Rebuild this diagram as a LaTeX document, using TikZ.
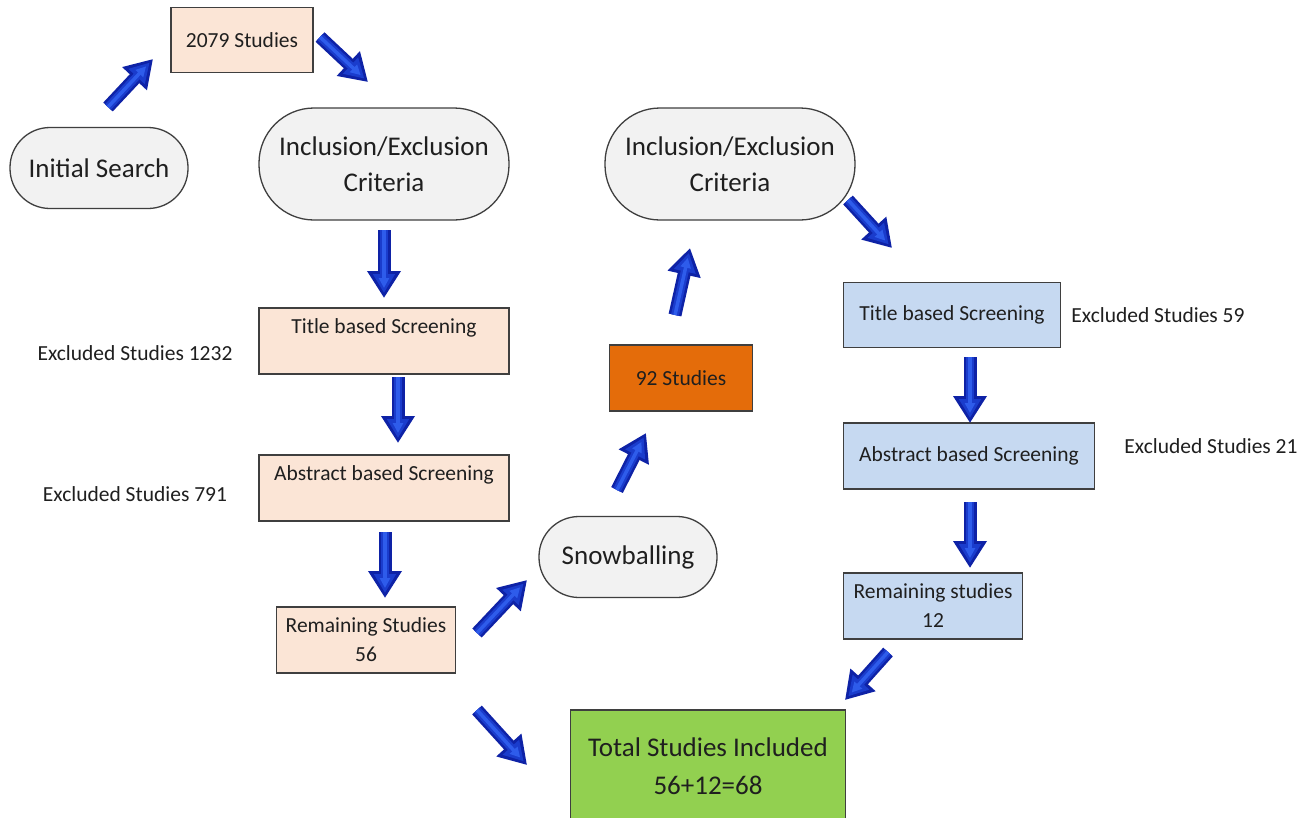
\documentclass[tikz,border=0pt]{standalone}
\usepackage{fontspec}
\setmainfont{Carlito}
\usetikzlibrary{arrows.meta}
\definecolor{peach}{HTML}{FBE5D6}
\definecolor{bluebox}{HTML}{C6D9F1}
\definecolor{orangebox}{HTML}{E46C0A}
\definecolor{greenbox}{HTML}{92D050}
\definecolor{stadfill}{HTML}{F2F2F2}
\definecolor{edgegray}{HTML}{3F3F3F}
\definecolor{arrowdark}{HTML}{0E22A6}
\definecolor{arrowmid}{HTML}{1A3CCC}
\definecolor{arrowlight}{HTML}{2E5CEB}
\definecolor{txt}{HTML}{1F1F1F}
\begin{document}
\begin{tikzpicture}[x=1pt,y=-1pt,
  box/.style={draw=edgegray, line width=1.3pt, inner sep=0pt, align=center, text=txt,
    font=\fontsize{21.5}{29}\selectfont},
  peachbox/.style={box, fill=peach},
  bluebx/.style={box, fill=bluebox},
  stad/.style={box, fill=stadfill, font=\fontsize{27}{36}\selectfont},
  note/.style={inner sep=0pt, text=txt, font=\fontsize{21.5}{29}\selectfont},
  barrowA/.style={draw=arrowdark, line width=13pt,
    -{Triangle[length=27pt,width=32pt,fill=arrowdark]}},
  barrowB/.style={draw=arrowmid, line width=8pt, shorten >=5pt,
    -{Triangle[length=19pt,width=21pt,fill=arrowmid]}},
  barrowC/.style={draw=arrowlight, line width=3.5pt, shorten >=10pt,
    -{Triangle[length=10pt,width=10pt,fill=arrowlight]}}
]
\clip (0,0) rectangle (1308,817);
\fill[white] (0,0) rectangle (1308,817);

% nodes
\node[stad, rounded corners=40pt, minimum width=178pt, minimum height=81pt] (init) at (99,168) {Initial Search};
\node[peachbox, minimum width=142pt, minimum height=65pt] (s2079) at (242,40) {2079 Studies};
\node[stad, rounded corners=55pt, minimum width=250pt, minimum height=112pt] (incl1) at (384,164) {Inclusion/Exclusion\\Criteria};
\node[stad, rounded corners=55pt, minimum width=250pt, minimum height=112pt] (incl2) at (730,164) {Inclusion/Exclusion\\Criteria};
\node[peachbox, minimum width=250pt, minimum height=66pt] (title1) at (384,341) {Title based Screening\\\mbox{}};
\node[peachbox, minimum width=250pt, minimum height=66pt] (abs1) at (384,488) {Abstract based Screening\\\mbox{}};
\node[peachbox, minimum width=179pt, minimum height=66pt] (rem1) at (366,640) {Remaining Studies\\56};
\node[note] (exc1232) at (135,353) {Excluded Studies 1232};
\node[note] (exc791) at (135,494) {Excluded Studies 791};
\node[box, fill=orangebox, minimum width=143pt, minimum height=66pt] (s92) at (681,378) {92 Studies};
\node[stad, rounded corners=40pt, minimum width=178pt, minimum height=81pt] (snow) at (628,557) {Snowballing};
\node[box, fill=greenbox, minimum width=275pt, minimum height=112pt,
  font=\fontsize{27}{38}\selectfont] (total) at (708,766) {Total Studies Included\\56+12=68};
\node[bluebx, minimum width=217pt, minimum height=65pt] (title2) at (952,315) {Title based Screening};
\node[note] (exc59) at (1158,315) {Excluded Studies 59};
\node[bluebx, minimum width=251pt, minimum height=66pt] (abs2) at (969,456) {Abstract based Screening};
\node[note] (exc21) at (1211,446) {Excluded Studies 21};
\node[bluebx, minimum width=179pt, minimum height=66pt] (rem2) at (933,606) {Remaining studies\\12};

% arrow end points
\coordinate (a1s) at (108,107);  \coordinate (a1e) at (153,59);
\coordinate (a2s) at (320,37);   \coordinate (a2e) at (368,82);
\coordinate (a3s) at (384,230);  \coordinate (a3e) at (384,298);
\coordinate (a4s) at (398,377);  \coordinate (a4e) at (398,443);
\coordinate (a5s) at (385,532);  \coordinate (a5e) at (385,598);
\coordinate (a6s) at (477,633);  \coordinate (a6e) at (527,580);
\coordinate (a7s) at (477,710);  \coordinate (a7e) at (527,765);
\coordinate (a8s) at (617,490);  \coordinate (a8e) at (646,433);
\coordinate (a9s) at (675,315);  \coordinate (a9e) at (690,248);
\coordinate (a10s) at (848,200); \coordinate (a10e) at (892,248);
\coordinate (a11s) at (970,357); \coordinate (a11e) at (970,423);
\coordinate (a12s) at (970,502); \coordinate (a12e) at (970,568);
\coordinate (a13s) at (888,652); \coordinate (a13e) at (845,700);

\foreach \i in {1,...,13} {
  \draw[barrowA] (a\i s) -- (a\i e);
  \draw[barrowB] (a\i s) -- (a\i e);
  \draw[barrowC] (a\i s) -- (a\i e);
}
\end{tikzpicture}
\end{document}
